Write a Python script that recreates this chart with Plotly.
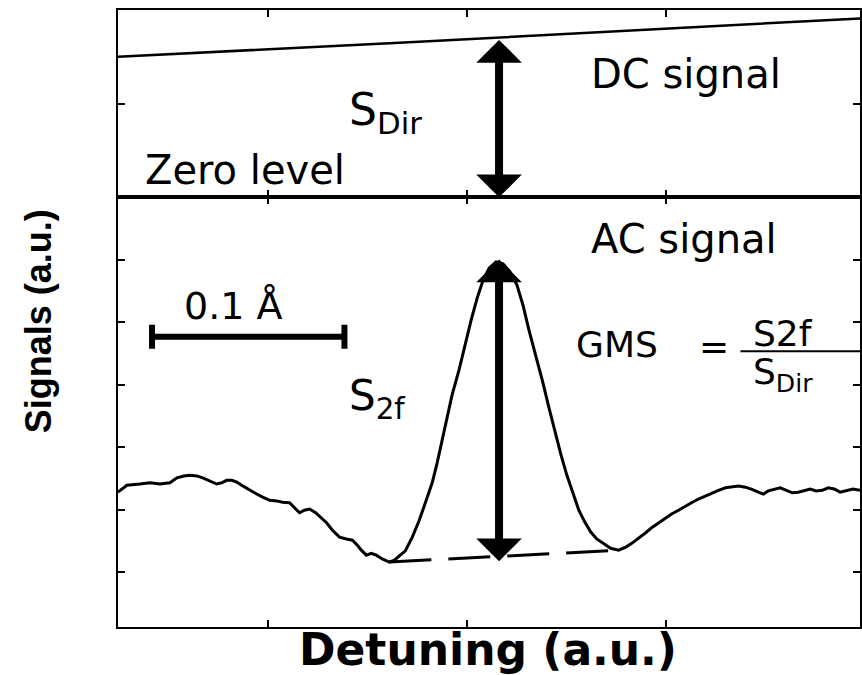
import plotly.graph_objects as go

# ---------------- data (arbitrary units) ----------------
# detuning axis: ticks at 100, 200, 300
detuning = [24.8, 29.3, 35.8, 40.9, 45.9, 50.9, 54.4, 57.9, 60.9, 64.4,
            67.4, 70.9, 74.4, 76.9, 79.4, 82.0, 84.5, 87.5, 91.0, 94.5,
            97.5, 101.0, 104.5, 107.5, 111.0, 113.5, 116.0, 118.5, 121.1, 124.1,
            127.1, 129.6, 132.6, 136.1, 139.6, 142.6, 145.1, 147.1, 149.6, 152.1,
            154.6, 157.6, 161.2, 163.7, 166.2, 169.2, 172.7, 176.2, 179.7, 182.7,
            185.2, 187.7, 189.7, 192.7, 196.2, 199.2, 202.3, 205.3, 208.3, 211.3,
            214.8, 218.3, 221.8, 225.3, 228.3, 231.3, 234.8, 238.3, 241.4, 244.4,
            247.4, 250.4, 253.4, 256.4, 259.4, 262.4, 265.4, 268.9, 272.4, 276.4,
            280.0, 283.0, 286.5, 290.0, 293.0, 296.5, 300.0, 303.0, 306.5, 310.0,
            313.0, 316.5, 320.1, 323.1, 326.6, 330.1, 333.1, 336.6, 340.1, 343.1,
            346.6, 349.1, 351.6, 354.6, 357.6, 360.7, 363.7, 366.7, 369.7, 372.7,
            375.7, 378.7, 381.7, 384.7, 387.7, 390.7, 394.2, 397.7]
ac_signal = [22.8, 23.9, 24.1, 24.3, 24.1, 24.3, 25.1, 25.4, 25.5, 25.4,
             25.1, 24.6, 24.1, 24.3, 24.7, 24.7, 24.4, 23.8, 23.1, 22.5,
             22.0, 21.5, 21.4, 21.2, 21.1, 20.3, 19.5, 19.9, 20.1, 19.5,
             18.7, 17.9, 16.7, 15.6, 15.3, 15.1, 14.3, 13.5, 12.7, 13.0,
             12.7, 12.1, 11.6, 11.9, 12.6, 13.4, 15.6, 18.3, 21.5, 24.3,
             27.5, 31.2, 34.4, 38.4, 42.4, 46.4, 50.4, 53.9, 56.8, 58.7,
             59.7, 59.4, 58.1, 56.0, 52.8, 48.8, 44.8, 40.4, 36.3, 32.4,
             28.8, 25.5, 22.7, 19.9, 18.0, 16.4, 15.3, 14.5, 13.8, 13.5,
             14.0, 14.6, 15.4, 16.3, 17.1, 17.9, 18.7, 19.3, 19.9, 20.6,
             21.1, 21.7, 22.2, 22.7, 23.1, 23.5, 23.6, 23.8, 23.6, 23.3,
             22.8, 22.5, 23.0, 23.3, 23.5, 23.1, 22.7, 22.8, 23.1, 23.3,
             23.0, 23.1, 23.5, 23.3, 22.8, 23.0, 23.3, 23.1]

dc_detuning = [24.8, 166.2, 397.7]
dc_signal = [1.50, 1.65, 1.91]
zero_detuning = [24.8, 397.7]
zero_level = [0.0, 0.0]
baseline_detuning = [161.2, 276.4]
baseline_level = [11.6, 13.5]

peak_detuning = 216.3
s2f_top, s2f_bottom = 60.1, 11.4
sdir_top, sdir_bottom = 1.68, -0.025

scale_bar_center = 90.25
scale_bar_half = 48.35
scale_bar_level = 47.7

x_ticks = [100, 200, 300]
ac_ticks = [10, 20, 30, 40, 50, 60]
dc_ticks = [1]

x_range = [24.8, 397.7]
ac_range = [1.19, 70.1]
dc_range = [0, 2]
split = 0.6969

FONT = "DejaVu Sans"

fig = go.Figure()
fig.add_trace(go.Scatter(x=detuning, y=ac_signal, mode="lines",
                         line=dict(color="black", width=3),
                         xaxis="x", yaxis="y", showlegend=False))
fig.add_trace(go.Scatter(x=baseline_detuning, y=baseline_level, mode="lines",
                         line=dict(color="black", width=3, dash="42px,17px"),
                         xaxis="x", yaxis="y", showlegend=False))
fig.add_trace(go.Scatter(x=dc_detuning, y=dc_signal, mode="lines",
                         line=dict(color="black", width=2.5),
                         xaxis="x2", yaxis="y2", showlegend=False))
fig.add_trace(go.Scatter(x=zero_detuning, y=zero_level, mode="lines",
                         line=dict(color="black", width=4), cliponaxis=False,
                         xaxis="x2", yaxis="y2", showlegend=False))
fig.add_trace(go.Scatter(x=[scale_bar_center], y=[scale_bar_level], mode="markers",
                         marker=dict(color="black", size=4),
                         error_x=dict(type="constant", value=scale_bar_half,
                                      thickness=6, width=12, color="black"),
                         xaxis="x", yaxis="y", showlegend=False))

axis_style = dict(showgrid=False, zeroline=False, showline=True, linecolor="black",
                  linewidth=2, mirror="ticks", ticks="inside", ticklen=7,
                  tickwidth=1.5, tickcolor="black", showticklabels=False)

def arrow(xref, yref, x, y0, y1):
    return dict(x=x, y=y1, ax=x, ay=y0, xref=xref, yref=yref, axref=xref, ayref=yref,
                showarrow=True, arrowhead=1, startarrowhead=1, arrowside="end+start",
                arrowwidth=8, arrowsize=0.95, startarrowsize=0.95, arrowcolor="black",
                standoff=0, startstandoff=0, font=dict(size=1))

def label(text, xref, yref, x, y, size):
    return dict(text=text, x=x, y=y, xref=xref, yref=yref, xanchor="left",
                yanchor="middle", showarrow=False,
                font=dict(family=FONT, size=size, color="black"))

annotations = [
    arrow("x2", "y2", peak_detuning, sdir_bottom, sdir_top),
    arrow("x", "y", peak_detuning, s2f_bottom, s2f_top),
    label("DC signal", "x2", "y2", 261.4, 1.32, 40),
    label("Zero level", "x2", "y2", 37.3, 0.29, 40),
    label("S<sub>Dir</sub>", "x2", "y2", 140.1, 0.90, 44),
    label("AC signal", "x", "y", 261.4, 63.4, 40),
    label("0.1 Å", "x", "y", 56.9, 52.6, 38),
    label("S<sub>2f</sub>", "x", "y", 140.1, 37.8, 42),
    label("GMS", "x", "y", 253.9, 46.4, 36),
    label("=", "x", "y", 316.0, 46.2, 36),
    label("S2f", "x", "y", 343.1, 48.3, 36),
    label("S<sub>Dir</sub>", "x", "y", 343.1, 41.6, 36),
    dict(text="Detuning (a.u.)", x=0.498, y=-0.036, xref="paper", yref="paper",
         xanchor="center", yanchor="middle", showarrow=False,
         font=dict(family=FONT, size=44, weight="bold", color="black")),
    dict(text="Signals (a.u.)", x=-0.106, y=0.496, xref="paper", yref="paper",
         xanchor="center", yanchor="middle", showarrow=False, textangle=-90,
         font=dict(family="Liberation Sans", size=36, weight="bold", color="black")),
]

shapes = [
    dict(type="line", xref="x", yref="y", x0=337.6, x1=397.7, y0=45.4, y1=45.4,
         line=dict(color="black", width=2)),
]

fig.update_layout(
    width=862, height=675,
    margin=dict(l=118, r=0, t=10, b=48),
    paper_bgcolor="white", plot_bgcolor="white",
    xaxis=dict(domain=[0, 1], range=x_range, tickvals=x_ticks, anchor="y", **axis_style),
    xaxis2=dict(domain=[0, 1], range=x_range, tickvals=x_ticks, anchor="y2",
                matches="x", **axis_style),
    yaxis=dict(domain=[0, split], range=ac_range, tickvals=ac_ticks, anchor="x", **axis_style),
    yaxis2=dict(domain=[split, 1], range=dc_range, tickvals=dc_ticks, anchor="x2", **axis_style),
    annotations=annotations,
    shapes=shapes,
    showlegend=False,
)

fig.write_html("out.html", config={"displayModeBar": False})
